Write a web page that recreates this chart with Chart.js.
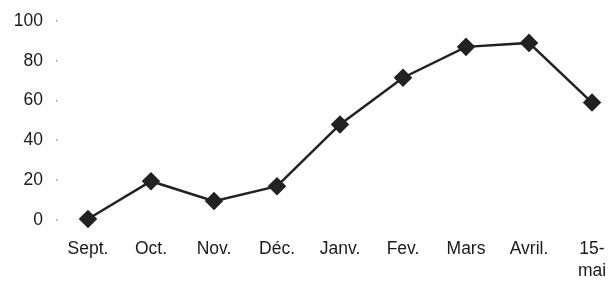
<!DOCTYPE html>
<html><head><meta charset="utf-8">
<script src="https://cdn.jsdelivr.net/npm/chart.js@4/dist/chart.umd.min.js"></script>
<style>html,body{margin:0;padding:0;background:#fff}#w{width:608px;height:282px}</style>
</head><body><div id="w"><canvas id="c"></canvas></div>
<script>
const categories = ["Sept.", "Oct.", "Nov.", "Déc.", "Janv.", "Fev.", "Mars", "Avril.", ["15-", "mai"]];
const values = [0.5, 19.5, 9.5, 17, 48, 71.5, 87, 89, 59];
const yTicks = [0, 20, 40, 60, 80, 100];

const tickDots = {
  id: 'tickDots',
  afterDraw(chart) {
    const ctx = chart.ctx, y = chart.scales.y;
    ctx.save();
    ctx.fillStyle = '#999';
    yTicks.forEach(v => {
      const py = y.getPixelForValue(v);
      ctx.fillRect(56, Math.round(py) - 1, 1.5, 1.5);
    });
    ctx.restore();
  }
};

new Chart(document.getElementById('c'), {
  type: 'line',
  data: { labels: categories, datasets: [{
    data: values, borderColor: '#222', backgroundColor: '#222', clip: false,
    borderWidth: 2.5, pointStyle: 'rectRot', pointRadius: 7.5, pointHoverRadius: 7.5, tension: 0
  }]},
  options: {
    responsive: true, maintainAspectRatio: false, animation: false,
    layout: { autoPadding: false, padding: { left: 0, right: 16, top: 21, bottom: 0 } },
    plugins: { legend: { display: false }, tooltip: { enabled: false } },
    scales: {
      x: {
        offset: false,
        grid: { display: false, drawTicks: false }, border: { display: false },
        ticks: { color: '#1a1a1a', font: { family: 'Liberation Sans', size: 17.5, lineHeight: 1.25 }, padding: 18, maxRotation: 0, autoSkip: false },
        afterFit(s) { s.height = 62; s.paddingLeft = 0; s.paddingRight = 0; }
      },
      y: {
        min: 0, max: 100,
        grid: { display: false, drawTicks: false }, border: { display: false },
        ticks: { stepSize: 20, color: '#1a1a1a', font: { family: 'Liberation Sans', size: 17.5 }, padding: 45 },
        afterFit(s) { s.width = 88; s.paddingTop = 0; s.paddingBottom = 0; }
      }
    }
  },
  plugins: [tickDots]
});
</script>
</body></html>
